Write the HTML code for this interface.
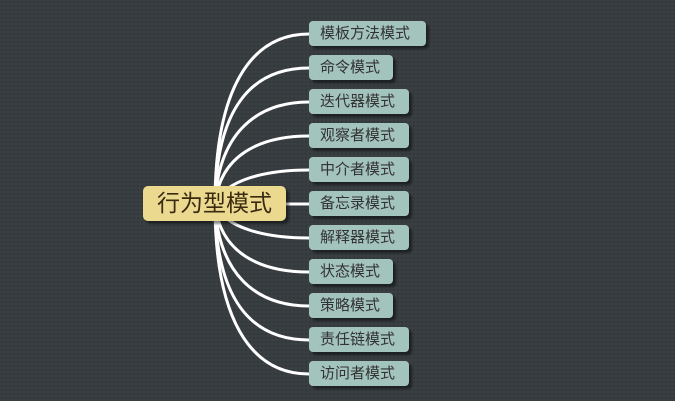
<!DOCTYPE html>
<html><head><meta charset="utf-8"><style>
body{margin:0;width:675px;height:401px;overflow:hidden;background-color:#393e41;background-image:radial-gradient(#30353a 0.8px,transparent 1px);background-size:4px 4px;font-family:"Liberation Sans","Noto Sans CJK SC",sans-serif;position:relative}
.c{position:absolute;left:143px;top:186px;width:143px;height:35px;background:#ead98f;border-radius:5px;box-shadow:3px 3px 2px rgba(0,0,0,.45);font-size:23px;color:#3a2a10;line-height:35px;text-align:center}
.n{position:absolute;left:309px;height:25px;background:#a3c3bd;border-radius:4px;box-shadow:3px 3px 2px rgba(0,0,0,.45);font-size:15px;color:#333;line-height:25px;padding-left:11px;box-sizing:border-box;white-space:nowrap}
svg{position:absolute;left:0;top:0}
</style></head><body>
<svg width="675" height="401"><g fill="none" stroke="#fff" stroke-width="3">
<path d="M215,204 C215,90 250,34 309,34"/>
<path d="M215,204 C216,110 250,68 309,68"/>
<path d="M215,204 C218,135 255,102 309,102"/>
<path d="M215,204 C220,155 260,136 309,136"/>
<path d="M215,204 C225,180 265,170 309,170"/>
<path d="M286,204 L309,204"/>
<path d="M215,204 C225,228 265,238 309,238"/>
<path d="M215,204 C220,253 260,272 309,272"/>
<path d="M215,204 C218,273 255,306 309,306"/>
<path d="M215,204 C216,298 250,340 309,340"/>
<path d="M215,204 C215,318 250,374 309,374"/>
</g></svg>
<div class="c">行为型模式</div>
<div class="n" style="top:21px;width:117px">模板方法模式</div>
<div class="n" style="top:55px;width:84px">命令模式</div>
<div class="n" style="top:89px;width:100px">迭代器模式</div>
<div class="n" style="top:123px;width:100px">观察者模式</div>
<div class="n" style="top:157px;width:100px">中介者模式</div>
<div class="n" style="top:191px;width:100px">备忘录模式</div>
<div class="n" style="top:225px;width:100px">解释器模式</div>
<div class="n" style="top:259px;width:84px">状态模式</div>
<div class="n" style="top:293px;width:84px">策略模式</div>
<div class="n" style="top:327px;width:100px">责任链模式</div>
<div class="n" style="top:361px;width:100px">访问者模式</div>
</body></html>
